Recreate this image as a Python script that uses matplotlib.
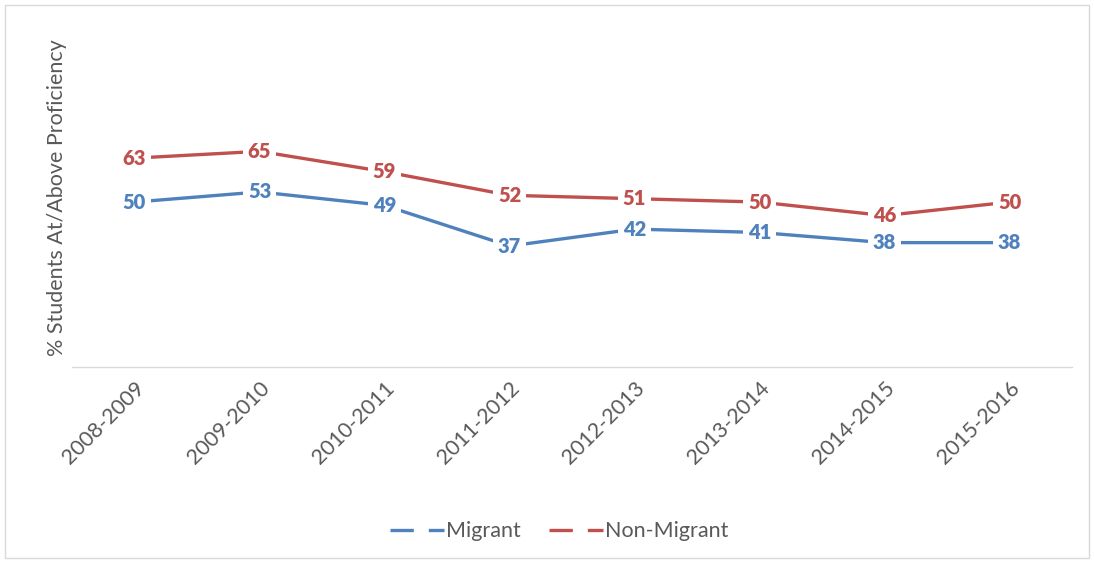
import matplotlib.pyplot as plt
from matplotlib.lines import Line2D
from matplotlib.patches import Rectangle

years = ["2008-2009", "2009-2010", "2010-2011", "2011-2012",
         "2012-2013", "2013-2014", "2014-2015", "2015-2016"]
migrant = [50, 53, 49, 37, 42, 41, 38, 38]
non_migrant = [63, 65, 59, 52, 51, 50, 46, 50]

blue = "#4F81BD"
red = "#C0504D"
gray = "#595959"

plt.rcParams['font.family'] = ['Lato', 'DejaVu Sans']

fig = plt.figure(figsize=(10.94, 5.65), dpi=100)
ax = fig.add_axes([0.0658, 0.3504, 0.9142, 0.5983])

# 枠線
fig.patches.append(Rectangle((5 / 1094, 7 / 565), 1084 / 1094, 553 / 565,
                             transform=fig.transFigure, fill=False,
                             edgecolor="#D9D9D9", linewidth=1))

x = list(range(len(years)))
for vals, col in [(migrant, blue), (non_migrant, red)]:
    ax.plot(x, vals, color=col, linewidth=2.4, solid_capstyle="butt", zorder=2)
    for xi, v in zip(x, vals):
        ax.text(xi, v, str(v), color=col, fontsize=14.5, fontweight="heavy",
                ha="center", va="center", zorder=3,
                bbox=dict(facecolor="white", edgecolor="none", pad=3.5))

ax.set_xlim(-0.5, len(years) - 0.5)
ax.set_ylim(1.2, 101.2)
ax.set_yticks([])
ax.set_xticks(x)
ax.set_xticklabels(years, rotation=45, ha="right", rotation_mode="anchor",
                   fontsize=15.5, color=gray)
ax.tick_params(axis="x", length=0, pad=8)
for s in ["top", "right", "left"]:
    ax.spines[s].set_visible(False)
ax.spines["bottom"].set_color("#D9D9D9")
ax.spines["bottom"].set_linewidth(1)
ax.set_ylabel("% Students At/Above Proficiency", fontsize=15.5, color=gray)
ax.yaxis.set_label_coords(-0.005, 0.5)

handles = [Line2D([], [], color=blue, linewidth=2.4, linestyle=(0, (7, 4.5))),
           Line2D([], [], color=red, linewidth=2.4, linestyle=(0, (7, 4.5)))]
fig.legend(handles, ["Migrant", "Non-Migrant"], loc="center",
           bbox_to_anchor=(0.511, 0.06), ncol=2, frameon=False, fontsize=15.5,
           labelcolor=gray, handlelength=2.5, handletextpad=0.1,
           columnspacing=1.3)

fig.savefig("out.png", dpi=100)
